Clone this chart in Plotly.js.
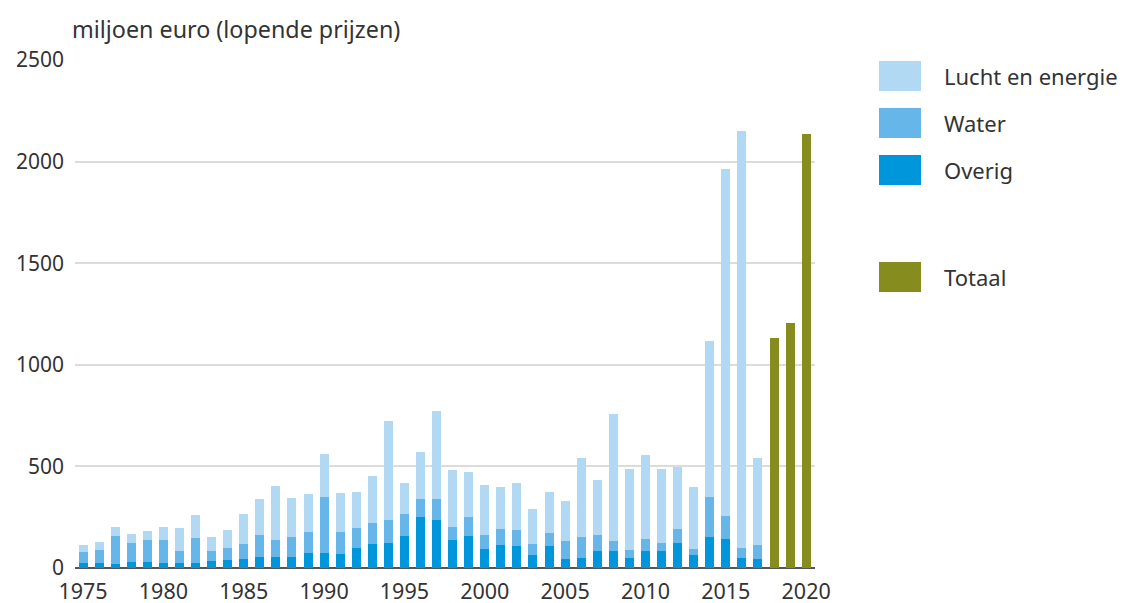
<!DOCTYPE html>
<html>
<head>
<meta charset="utf-8">
<script src="https://cdn.plot.ly/plotly-3.0.1.min.js"></script>
<style>
  html, body { margin: 0; padding: 0; background: #ffffff; }
  #chart { width: 1126px; height: 603px; }
</style>
</head>
<body>
<div id="chart"></div>
<script>
// ---- Data ----
const years = [1975,1976,1977,1978,1979,1980,1981,1982,1983,1984,1985,1986,1987,1988,1989,
  1990,1991,1992,1993,1994,1995,1996,1997,1998,1999,2000,2001,2002,2003,2004,2005,2006,2007,
  2008,2009,2010,2011,2012,2013,2014,2015,2016,2017];
const overig = [23,23,18,31,31,26,23,23,35,38,46,56,56,54,74,
  72,69,99,118,125,159,253,237,138,158,94,113,107,64,108,43,49,84,
  84,49,84,84,123,63,153,143,51,43];
const water = [56,65,140,94,108,113,61,127,49,58,71,107,81,99,104,
  276,110,96,102,112,107,87,103,66,92,69,79,82,54,66,92,104,79,
  49,41,59,39,68,31,195,115,49,70];
const luchtEnergie = [35,41,46,42,44,61,111,111,71,91,147,175,267,193,188,
  211,189,178,235,486,151,230,432,276,221,246,209,228,171,201,194,386,271,
  627,398,415,365,305,303,770,1706,2050,429];
const totaalYears = [2018,2019,2020];
const totaal = [1133,1207,2135];
const seriesNames = ["Lucht en energie","Water","Overig","Totaal"];
const yTicks = [0,500,1000,1500,2000,2500];
const xTicks = [1975,1980,1985,1990,1995,2000,2005,2010,2015,2020];
const yTitle = "miljoen euro (lopende prijzen)";

// ---- Style ----
const colors = ["#b2d9f4","#66b6ea","#0096db","#878c1e"];
const FONT = "Noto Sans, Open Sans, sans-serif";
const TXT = "#333333";
const W = 1126, H = 603;
const M = {l: 75, r: 311, t: 60, b: 35};
const plotW = W - M.l - M.r, plotH = H - M.t - M.b;
const px2x = px => (px - M.l) / plotW;
const px2y = py => (H - M.b - py) / plotH;

const traces = [
  {type:"bar", name: seriesNames[2], x: years, y: overig, marker:{color: colors[2]}},
  {type:"bar", name: seriesNames[1], x: years, y: water, marker:{color: colors[1]}},
  {type:"bar", name: seriesNames[0], x: years, y: luchtEnergie, marker:{color: colors[0]}},
  {type:"bar", name: seriesNames[3], x: totaalYears, y: totaal, marker:{color: colors[3]}}
];

// Legend drawn as swatches + labels
const legendRows = [
  {name: seriesNames[0], color: colors[0], y: 76},
  {name: seriesNames[1], color: colors[1], y: 123},
  {name: seriesNames[2], color: colors[2], y: 170},
  {name: seriesNames[3], color: colors[3], y: 277}
];
const shapes = legendRows.map(r => ({
  type: "rect", xref: "paper", yref: "paper",
  x0: px2x(879), x1: px2x(921), y0: px2y(r.y - 15), y1: px2y(r.y + 15),
  fillcolor: r.color, line: {width: 0}
}));
const annotations = legendRows.map(r => ({
  xref: "paper", yref: "paper", x: px2x(942), y: px2y(r.y),
  xanchor: "left", yanchor: "middle", showarrow: false,
  text: r.name, font: {family: FONT, size: 22, color: TXT}
}));
// y-axis unit title
annotations.push({
  xref: "paper", yref: "paper", x: px2x(70), y: px2y(29),
  xanchor: "left", yanchor: "middle", showarrow: false,
  text: yTitle, font: {family: FONT, size: 23.3, color: TXT}
});

const layout = {
  width: W, height: H,
  margin: M,
  paper_bgcolor: "#ffffff", plot_bgcolor: "#ffffff",
  barmode: "stack",
  bargap: 0.44,
  showlegend: false,
  font: {family: FONT, color: TXT},
  xaxis: {
    range: [1974.5, 2020.55],
    tickmode: "array", tickvals: xTicks, ticktext: xTicks.map(String),
    ticks: "", showgrid: false, zeroline: false, showline: false,
    ticklabelstandoff: 8,
    tickfont: {family: FONT, size: 21.5, color: TXT},
    fixedrange: true
  },
  yaxis: {
    range: [0, 2500],
    tickmode: "array", tickvals: yTicks, ticktext: yTicks.map(String),
    ticks: "", showgrid: true, gridcolor: "#dcdcdc", gridwidth: 2,
    zeroline: true, zerolinecolor: "#555555", zerolinewidth: 2,
    showline: false, ticklabelstandoff: 10,
    tickfont: {family: FONT, size: 21, color: TXT},
    fixedrange: true
  },
  shapes: shapes,
  annotations: annotations
};

Plotly.newPlot("chart", traces, layout, {displayModeBar: false, staticPlot: true});
</script>
</body>
</html>
